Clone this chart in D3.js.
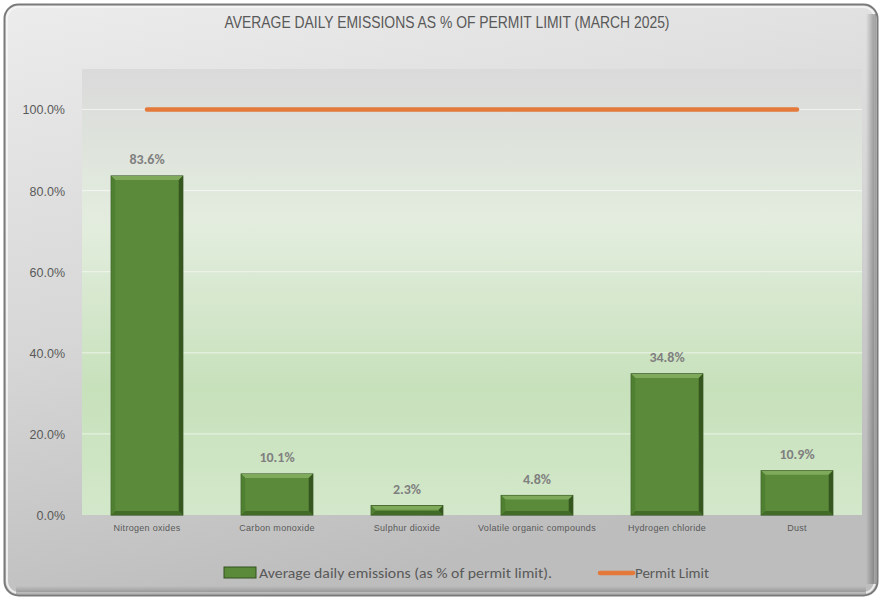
<!DOCTYPE html>
<html>
<head>
<meta charset="utf-8">
<script src="https://cdn.jsdelivr.net/npm/d3@7"></script>
<style>
    body { margin: 0; background: #ffffff; }
    svg { display: block; }
</style>
</head>
<body>
<svg id="emissions-chart"></svg>
<script>
const width = 882, height = 600
const margin = { top: 69, bottom: 85, left: 82, right: 20 }

// data
const pollutants = ["Nitrogen oxides", "Carbon monoxide", "Sulphur dioxide",
    "Volatile organic compounds", "Hydrogen chloride", "Dust"]
const emissionsPct = [0.836, 0.101, 0.023, 0.048, 0.348, 0.109]
const permitLimit = [1, 1, 1, 1, 1, 1]
const yTicks = [0, 0.2, 0.4, 0.6, 0.8, 1.0]

const svg = d3.select("svg#emissions-chart")
    .attr("viewBox", [0, 0, width, height])
    .attr("width", width)
    .attr("height", height)
    .style("font-family", "Calibri, Carlito, 'Open Sans', 'Liberation Sans', sans-serif")

const defs = svg.append("defs")

const cardGrad = defs.append("linearGradient").attr("id", "card-grad")
    .attr("x1", 0).attr("y1", 0).attr("x2", 0.3).attr("y2", 1)
cardGrad.append("stop").attr("offset", "0%").attr("stop-color", "#ececec")
cardGrad.append("stop").attr("offset", "55%").attr("stop-color", "#d6d6d6")
cardGrad.append("stop").attr("offset", "100%").attr("stop-color", "#bdbdbd")

const plotGrad = defs.append("linearGradient").attr("id", "plot-grad")
    .attr("x1", 0).attr("y1", 0).attr("x2", 0).attr("y2", 1)
plotGrad.append("stop").attr("offset", "0%").attr("stop-color", "#dadada")
plotGrad.append("stop").attr("offset", "35%").attr("stop-color", "#e3edde")
plotGrad.append("stop").attr("offset", "72%").attr("stop-color", "#c7e1bb")
plotGrad.append("stop").attr("offset", "100%").attr("stop-color", "#d3e8ca")

const edgeGrad = defs.append("linearGradient").attr("id", "edge-grad")
    .attr("x1", 0).attr("y1", 0).attr("x2", 1).attr("y2", 0)
edgeGrad.append("stop").attr("offset", "0%").attr("stop-color", "#000").attr("stop-opacity", 0)
edgeGrad.append("stop").attr("offset", "100%").attr("stop-color", "#000").attr("stop-opacity", 0.35)

const bottomGrad = defs.append("linearGradient").attr("id", "bottom-grad")
    .attr("x1", 0).attr("y1", 0).attr("x2", 0).attr("y2", 1)
bottomGrad.append("stop").attr("offset", "0%").attr("stop-color", "#000").attr("stop-opacity", 0)
bottomGrad.append("stop").attr("offset", "100%").attr("stop-color", "#000").attr("stop-opacity", 0.25)

// card background
svg.append("rect")
    .attr("x", 4.5).attr("y", 4.5)
    .attr("width", width - 9).attr("height", height - 9)
    .attr("rx", 14)
    .attr("fill", "url(#card-grad)")
    .attr("stroke", "#7a7a7a")
    .attr("stroke-width", 2)
svg.append("rect")
    .attr("x", 7).attr("y", 7)
    .attr("width", width - 14).attr("height", height - 14)
    .attr("rx", 12)
    .attr("fill", "none")
    .attr("stroke", "#f6f6f6")
    .attr("stroke-width", 2)
    .attr("stroke-opacity", 0.8)
svg.append("rect")
    .attr("x", width - 16).attr("y", 14)
    .attr("width", 10).attr("height", height - 30)
    .attr("fill", "url(#edge-grad)")
svg.append("rect")
    .attr("x", 16).attr("y", height - 14)
    .attr("width", width - 32).attr("height", 8)
    .attr("fill", "url(#bottom-grad)")

const xScale = d3.scaleBand()
    .domain(pollutants)
    .range([margin.left, width - margin.right])
    .paddingInner(0.45)
    .paddingOuter(0.225)

const yScale = d3.scaleLinear()
    .domain([0, 1.1])
    .range([height - margin.bottom, margin.top])

// plot area
svg.append("rect")
    .attr("x", margin.left).attr("y", margin.top)
    .attr("width", width - margin.left - margin.right)
    .attr("height", height - margin.top - margin.bottom)
    .attr("fill", "url(#plot-grad)")

svg.append("g").attr("class", "grid")
    .selectAll("line")
    .data(yTicks.slice(1))
    .join("line")
    .attr("x1", margin.left).attr("x2", width - margin.right)
    .attr("y1", d => yScale(d)).attr("y2", d => yScale(d))
    .attr("stroke", "#ffffff")
    .attr("stroke-opacity", 0.6)

// y axis
const yAxis = svg.append("g")
    .attr("transform", `translate(${margin.left - 14}, 0)`)
    .call(d3.axisLeft(yScale).tickValues(yTicks).tickFormat(d3.format(".1%")).tickSize(0))
yAxis.select(".domain").remove()
yAxis.selectAll("text")
    .attr("fill", "#595959")
    .style("font-size", "12.5px")
    .attr("dy", "0.35em")

// x axis
const xAxis = svg.append("g")
    .attr("transform", `translate(0, ${height - margin.bottom})`)
    .call(d3.axisBottom(xScale).tickSize(0).tickPadding(10))
xAxis.select(".domain").remove()
xAxis.selectAll("text")
    .attr("fill", "#595959")
    .style("font-size", "9px")
    .style("letter-spacing", "0.3px")

// bars
const bars = svg.append("g").attr("class", "bars")
    .selectAll("g.bar")
    .data(pollutants.map((p, i) => ({ name: p, value: emissionsPct[i] })))
    .join("g").attr("class", "bar")

bars.append("rect")
    .attr("x", d => xScale(d.name))
    .attr("y", d => yScale(d.value))
    .attr("width", xScale.bandwidth())
    .attr("height", d => yScale(0) - yScale(d.value))
    .attr("fill", "#5a8a3a")
    .attr("stroke", "#33521f")
    .attr("stroke-width", 1.2)

// bevel: light top, dark right and bottom
const bevel = 4
bars.append("path")
    .attr("d", d => {
        const x0 = xScale(d.name), x1 = x0 + xScale.bandwidth(), y0 = yScale(d.value)
        const b = Math.min(bevel, (yScale(0) - y0) / 2)
        return `M${x0},${y0}L${x1},${y0}L${x1 - b},${y0 + b}L${x0 + b},${y0 + b}Z`
    })
    .attr("fill", "#7faa5c")
bars.append("path")
    .attr("d", d => {
        const x0 = xScale(d.name), x1 = x0 + xScale.bandwidth(), y0 = yScale(d.value), y1 = yScale(0)
        const b = Math.min(bevel, (y1 - y0) / 2)
        return `M${x1},${y0}L${x1},${y1}L${x1 - b},${y1 - b}L${x1 - b},${y0 + b}Z`
    })
    .attr("fill", "#35561f")
bars.append("path")
    .attr("d", d => {
        const x0 = xScale(d.name), x1 = x0 + xScale.bandwidth(), y0 = yScale(d.value), y1 = yScale(0)
        const b = Math.min(bevel, (y1 - y0) / 2)
        return `M${x0},${y1}L${x1},${y1}L${x1 - b},${y1 - b}L${x0 + b},${y1 - b}Z`
    })
    .attr("fill", "#426b28")
bars.append("path")
    .attr("d", d => {
        const x0 = xScale(d.name), y0 = yScale(d.value), y1 = yScale(0)
        const b = Math.min(bevel, (y1 - y0) / 2)
        return `M${x0},${y0}L${x0 + b},${y0 + b}L${x0 + b},${y1 - b}L${x0},${y1}Z`
    })
    .attr("fill", "#4f8031")

bars.append("text")
    .attr("x", d => xScale(d.name) + xScale.bandwidth() / 2)
    .attr("y", d => yScale(d.value) - 12)
    .attr("text-anchor", "middle")
    .attr("fill", "#7f7f7f")
    .style("font-size", "14px")
    .style("font-weight", "bold")
    .text(d => d3.format(".1%")(d.value))

// permit limit line
const line = d3.line()
    .x((d, i) => xScale(pollutants[i]) + xScale.bandwidth() / 2)
    .y(d => yScale(d))

svg.append("path")
    .datum(permitLimit)
    .attr("d", line)
    .attr("fill", "none")
    .attr("stroke", "#e3793a")
    .attr("stroke-width", 4.5)
    .attr("stroke-linecap", "round")

// title (condensed face)
svg.append("text")
    .attr("x", 447)
    .attr("y", 28)
    .attr("text-anchor", "middle")
    .attr("fill", "#595959")
    .attr("textLength", 445)
    .attr("lengthAdjust", "spacingAndGlyphs")
    .style("font-family", "'Liberation Sans Narrow', 'Arial Narrow', 'Liberation Sans', sans-serif")
    .style("font-size", "17px")
    .text("AVERAGE DAILY EMISSIONS AS % OF PERMIT LIMIT (MARCH 2025)")

// legend
const legend = svg.append("g").attr("class", "legend")
legend.append("rect")
    .attr("x", 224).attr("y", 567)
    .attr("width", 32).attr("height", 11)
    .attr("fill", "#5a8a3a")
    .attr("stroke", "#33521f")
legend.append("text")
    .attr("x", 259).attr("y", 578)
    .attr("fill", "#595959")
    .attr("textLength", 293)
    .attr("lengthAdjust", "spacingAndGlyphs")
    .style("font-size", "14.5px")
    .text("Average daily emissions (as % of permit limit).")
legend.append("line")
    .attr("x1", 600).attr("x2", 633)
    .attr("y1", 573).attr("y2", 573)
    .attr("stroke", "#e3793a")
    .attr("stroke-width", 4.5)
    .attr("stroke-linecap", "round")
legend.append("text")
    .attr("x", 635).attr("y", 578)
    .attr("fill", "#595959")
    .attr("textLength", 74)
    .attr("lengthAdjust", "spacingAndGlyphs")
    .style("font-size", "14.5px")
    .text("Permit Limit")
</script>
</body>
</html>
